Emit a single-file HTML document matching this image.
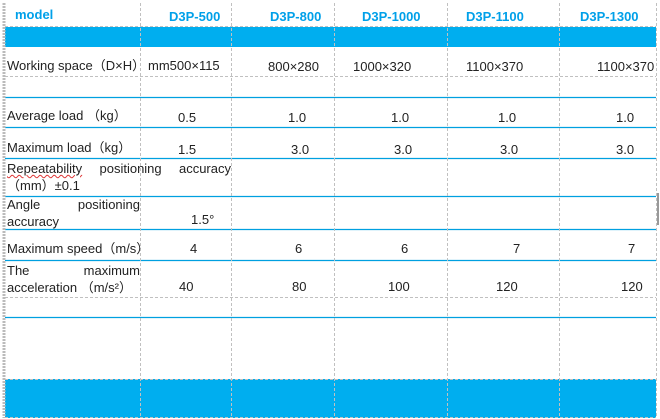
<!DOCTYPE html>
<html><head><meta charset="utf-8"><style>
html,body{margin:0;padding:0;background:#fff;width:660px;height:419px;overflow:hidden}
body{position:relative;font-family:"Liberation Sans",sans-serif;font-size:13px;color:#222}
.t{position:absolute;white-space:nowrap;line-height:14px}
.h{color:#00a0e9;font-weight:bold;font-size:13px}
.j{position:absolute;display:flex;justify-content:space-between;line-height:14px}
svg{position:absolute;left:0;top:0}
</style></head><body>
<svg width="660" height="419">
<rect x="5" y="27" width="651" height="20" fill="#00aeef"/>
<rect x="5" y="379" width="651" height="39" fill="#00aeef"/>
<g stroke="#00a0e0" stroke-width="1.3">
<line x1="5" y1="97.5" x2="656" y2="97.5"/>
<line x1="5" y1="127.5" x2="656" y2="127.5"/>
<line x1="5" y1="158.5" x2="656" y2="158.5"/>
<line x1="5" y1="196.5" x2="656" y2="196.5"/>
<line x1="5" y1="229.5" x2="656" y2="229.5"/>
<line x1="5" y1="260.5" x2="656" y2="260.5"/>
<line x1="5" y1="317.5" x2="656" y2="317.5"/>
</g>
<g stroke="#c0c0c0" stroke-width="1" stroke-dasharray="3,2" fill="none">
<line x1="140.5" y1="3" x2="140.5" y2="418"/>
<line x1="231.5" y1="3" x2="231.5" y2="418"/>
<line x1="334.5" y1="3" x2="334.5" y2="418"/>
<line x1="447.5" y1="3" x2="447.5" y2="418"/>
<line x1="559.5" y1="3" x2="559.5" y2="418"/>
<line x1="656.5" y1="3" x2="656.5" y2="418"/>
<line x1="5" y1="26.5" x2="656" y2="26.5"/>
<line x1="5" y1="76.5" x2="656" y2="76.5"/>
<line x1="5" y1="297.5" x2="656" y2="297.5"/>
<line x1="5" y1="379.5" x2="656" y2="379.5"/>
<line x1="5" y1="417.5" x2="656" y2="417.5"/>
</g>
<line x1="4" y1="3" x2="4" y2="418" stroke="#bbb" stroke-width="3" stroke-dasharray="2,1"/>
<rect x="657" y="193" width="2" height="32" fill="#999"/>
</svg>
<div class="t h" style="left:15px;top:8px">model</div>
<div class="t h" style="left:169px;top:10px">D3P-500</div>
<div class="t h" style="left:270px;top:10px">D3P-800</div>
<div class="t h" style="left:362px;top:10px">D3P-1000</div>
<div class="t h" style="left:466px;top:10px">D3P-1100</div>
<div class="t h" style="left:580px;top:10px">D3P-1300</div>

<div class="t" style="left:7px;top:59px">Working space（D×H）</div>
<div class="t" style="left:148px;top:59px">mm500×115</div>
<div class="t" style="left:268px;top:60px">800×280</div>
<div class="t" style="left:353px;top:60px">1000×320</div>
<div class="t" style="left:466px;top:60px">1100×370</div>
<div class="t" style="left:597px;top:60px">1100×370</div>

<div class="t" style="left:7px;top:109px">Average load （kg）</div>
<div class="t" style="left:178px;top:111px">0.5</div>
<div class="t" style="left:288px;top:111px">1.0</div>
<div class="t" style="left:391px;top:111px">1.0</div>
<div class="t" style="left:498px;top:111px">1.0</div>
<div class="t" style="left:616px;top:111px">1.0</div>

<div class="t" style="left:7px;top:141px">Maximum load（kg）</div>
<div class="t" style="left:178px;top:143px">1.5</div>
<div class="t" style="left:291px;top:143px">3.0</div>
<div class="t" style="left:394px;top:143px">3.0</div>
<div class="t" style="left:500px;top:143px">3.0</div>
<div class="t" style="left:616px;top:143px">3.0</div>

<div class="j" style="left:7px;top:162px;width:224px"><span style="text-decoration:underline wavy #d33;text-decoration-thickness:1px">Repeatability</span><span>positioning</span><span>accuracy</span></div>
<div class="t" style="left:7px;top:179px">（mm）±0.1</div>

<div class="j" style="left:7px;top:198px;width:133px"><span>Angle</span><span>positioning</span></div>
<div class="t" style="left:7px;top:215px">accuracy</div>
<div class="t" style="left:191px;top:213px">1.5°</div>

<div class="t" style="left:7px;top:242px">Maximum speed（m/s）</div>
<div class="t" style="left:190px;top:242px">4</div>
<div class="t" style="left:295px;top:242px">6</div>
<div class="t" style="left:401px;top:242px">6</div>
<div class="t" style="left:513px;top:242px">7</div>
<div class="t" style="left:628px;top:242px">7</div>

<div class="j" style="left:7px;top:264px;width:133px"><span>The</span><span>maximum</span></div>
<div class="t" style="left:7px;top:281px">acceleration （m/s²）</div>
<div class="t" style="left:179px;top:280px">40</div>
<div class="t" style="left:292px;top:280px">80</div>
<div class="t" style="left:388px;top:280px">100</div>
<div class="t" style="left:496px;top:280px">120</div>
<div class="t" style="left:621px;top:280px">120</div>
</body></html>
